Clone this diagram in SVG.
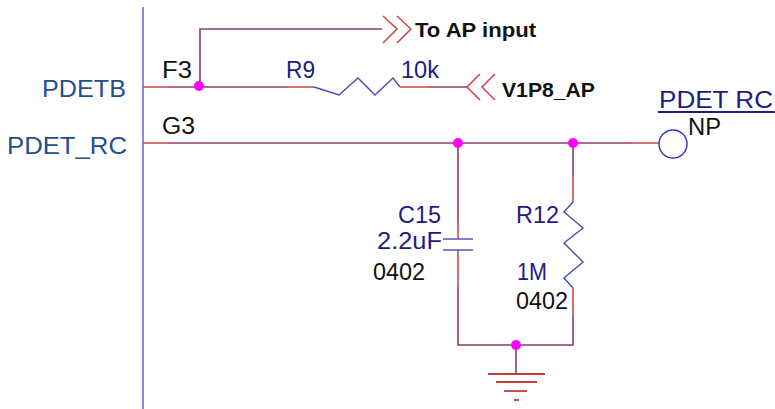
<svg xmlns="http://www.w3.org/2000/svg" width="775" height="409" viewBox="0 0 775 409">
<style>
.wire{stroke:#8a3d6e;stroke-width:1.6;fill:none}
.pin{stroke:#cc4b4b;stroke-width:1.6;fill:none}
.body{stroke:#4a4ab4;stroke-width:1.4;fill:none}
.gnd{stroke:#c83c3c;stroke-width:1.8;fill:none}
.dot{fill:#ff00ff}
.t{font-family:"Liberation Sans",Arial,sans-serif;font-size:23px}
.navy{fill:#1c1c84}
.blue{fill:#1f4f8c}
.blk{fill:#111}
.b{font-family:"Liberation Sans",Arial,sans-serif;font-size:21px;font-weight:bold;fill:#111}
</style>
<rect width="775" height="409" fill="#fff"/>
<g id="chip">
<line x1="143" y1="7" x2="143" y2="409" stroke="#7070c8" stroke-width="1.6"/>
<text class="t blue" x="42" y="97" textLength="84" lengthAdjust="spacingAndGlyphs">PDETB</text>
<text class="t blue" x="7" y="154" textLength="120" lengthAdjust="spacingAndGlyphs">PDET_RC</text>
<text class="t blk" x="162" y="78" textLength="30" lengthAdjust="spacingAndGlyphs">F3</text>
<text class="t blk" x="162" y="134" textLength="33" lengthAdjust="spacingAndGlyphs">G3</text>
</g>
<g id="connectors">
<line class="pin" x1="143" y1="87" x2="169" y2="87"/>
<line class="wire" x1="169" y1="87" x2="287" y2="87"/>
<polyline class="wire" points="200,87 200,29 382,29"/>
<line class="pin" x1="400" y1="87" x2="430" y2="87"/>
<line class="wire" x1="430" y1="87" x2="467" y2="87"/>
<line class="pin" x1="143" y1="143" x2="169" y2="143"/>
<line class="wire" x1="169" y1="143" x2="632" y2="143"/>
<line class="pin" x1="632" y1="143" x2="659" y2="143"/>
<line class="wire" x1="458" y1="143" x2="458" y2="223"/>
<line class="pin" x1="458" y1="223" x2="458" y2="239"/>
<line class="pin" x1="458" y1="250" x2="458" y2="287"/>
<polyline class="wire" points="458,287 458,345 573,345 573,315"/>
<line class="wire" x1="573" y1="143" x2="573" y2="176"/>
<line class="pin" x1="573" y1="176" x2="573" y2="202"/>
<line class="pin" x1="573" y1="288" x2="573" y2="315"/>
<line class="wire" x1="516" y1="345" x2="516" y2="374"/>
<circle class="dot" cx="199" cy="86" r="5"/>
<circle class="dot" cx="458" cy="143" r="5"/>
<circle class="dot" cx="573" cy="143" r="5"/>
<circle class="dot" cx="516" cy="345" r="5"/>
</g>
<g id="to_ap">
<polyline class="pin" points="383,16 397,29 383,43"/>
<polyline class="pin" points="397,16 411,29 397,43"/>
<text class="b" x="415" y="37" textLength="121" lengthAdjust="spacingAndGlyphs">To AP input</text>
</g>
<g id="R9">
<line class="pin" x1="287" y1="87" x2="314" y2="87"/>
<polyline class="body" points="314,87 339,95 358,78 375,95 393,78 400,87"/>
<text class="t navy" x="286" y="78" textLength="29" lengthAdjust="spacingAndGlyphs">R9</text>
<text class="t navy" x="401" y="78" textLength="38" lengthAdjust="spacingAndGlyphs">10k</text>
</g>
<g id="V1P8_AP">
<polyline class="pin" points="480,74 467,87 480,100"/>
<polyline class="pin" points="495,74 482,87 495,100"/>
<text class="b" x="502" y="97" textLength="93" lengthAdjust="spacingAndGlyphs">V1P8_AP</text>
</g>
<g id="PDET_RC_port">
<circle cx="673" cy="144" r="14" fill="none" stroke="#3434c4" stroke-width="1.4"/>
<text class="t navy" x="659" y="108" textLength="114" lengthAdjust="spacingAndGlyphs">PDET RC</text>
<line x1="658" y1="112" x2="775" y2="112" stroke="#1c1c84" stroke-width="2"/>
<text class="t blk" x="688" y="135" textLength="33" lengthAdjust="spacingAndGlyphs">NP</text>
</g>
<g id="C15">
<line class="body" x1="443" y1="239" x2="473" y2="239" stroke="#2c2c9c"/>
<line class="body" x1="443" y1="250" x2="473" y2="250" stroke="#2c2c9c"/>
<text class="t navy" x="398" y="223" textLength="43" lengthAdjust="spacingAndGlyphs">C15</text>
<text class="t navy" x="377" y="249" textLength="65" lengthAdjust="spacingAndGlyphs">2.2uF</text>
<text class="t blk" x="373" y="280" textLength="52" lengthAdjust="spacingAndGlyphs">0402</text>
</g>
<g id="R12">
<polyline class="body" points="573,202 564,212 583,228 564,243 583,262 564,278 573,288"/>
<text class="t navy" x="516" y="223" textLength="43" lengthAdjust="spacingAndGlyphs">R12</text>
<text class="t navy" x="517" y="280" textLength="30" lengthAdjust="spacingAndGlyphs">1M</text>
<text class="t blk" x="516" y="309" textLength="52" lengthAdjust="spacingAndGlyphs">0402</text>
</g>
<g id="GND">
<line class="gnd" x1="488" y1="374" x2="545" y2="374"/>
<line class="gnd" x1="496" y1="382" x2="537" y2="382"/>
<line class="gnd" x1="504" y1="391" x2="527" y2="391"/>
<line class="gnd" x1="514" y1="400" x2="519" y2="400"/>
</g>
</svg>
